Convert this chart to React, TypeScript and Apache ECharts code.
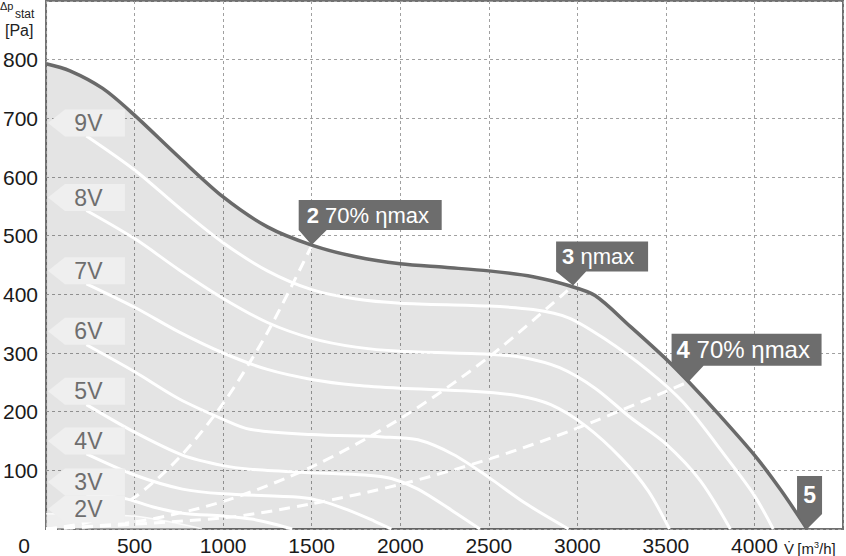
import React, { useEffect, useRef } from "react";
import * as echarts from "echarts";

// ---- data ----
const xTicks = [0, 500, 1000, 1500, 2000, 2500, 3000, 3500, 4000, 4500];
const yTicks = [0, 100, 200, 300, 400, 500, 600, 700, 800, 900];

const curve10V = [[0,793],[135,781],[320,751],[490,708],[750,634],[1000,566],[1250,515],[1500,484],[1750,464],[2000,452],[2250,446],[2500,440],[2750,430],[2950,415],[3100,398],[3300,345],[3500,290],[3628,251],[3800,195],[4000,126],[4150,66],[4297,0]];
const curve9V = [[228,670],[500,612],[750,548],[1000,488],[1250,440],[1500,408],[1750,392],[2000,385],[2500,380],[2750,374],[2950,360],[3150,325],[3400,270],[3600,215],[3847,120],[4000,57],[4106,0]];
const curve8V = [[228,543],[500,495],[750,442],[1000,393],[1250,352],[1500,325],[1750,310],[2000,303],[2500,298],[2700,292],[2900,275],[3100,240],[3300,190],[3500,145],[3695,82],[3864,0]];
const curve7V = [[228,418],[500,378],[750,336],[1000,300],[1250,272],[1500,255],[1750,245],[2000,240],[2400,235],[2650,228],[2850,212],[3050,175],[3250,120],[3400,65],[3520,0]];
const curve6V = [[228,314],[500,268],[750,222],[1000,187],[1150,170],[1500,161],[1900,157],[2100,152],[2300,127],[2500,88],[2700,45],[2950,0]];
const curve5V = [[228,212],[500,165],[770,126],[1000,108],[1150,102],[1500,96],[1800,92],[1950,86],[2100,68],[2300,30],[2450,0]];
const curve4V = [[228,128],[500,92],[770,68],[1000,60],[1430,54],[1550,48],[1700,33],[1850,14],[1950,0]];
const curve3V = [[228,58],[444,52],[600,38],[770,27],[1000,22],[1160,17],[1280,9],[1390,0]];
const curve2V = [[0,26],[250,25],[500,22],[650,15],[800,6],[880,0]];

const eff2 = [[0,0],[250,13],[500,54],[750,121],[1000,214],[1250,335],[1500,483]];
const eff3 = [[0,0],[500,12],[1000,47],[1500,106],[2000,188],[2500,293],[2976,415]];
const eff4 = [[0,0],[1000,19],[1500,43],[2000,76],[2500,119],[3000,172],[3628,251]];

const voltNames = ["9V", "8V", "7V", "6V", "5V", "4V", "3V", "2V"];
const voltLabelX = [228, 228, 228, 228, 228, 228, 228, 228];
const voltLabelY = [692, 565, 440, 337, 235, 150, 80, 34];

const pointNums = ["2", "3", "4", "5"];
const pointTexts = [" 70% ηmax", " ηmax", " 70% ηmax", ""];
const pointX = [1500, 2976, 3628, 4297];
const pointY = [484, 415, 251, 0];

const FONT = "'Liberation Sans', Arial, sans-serif";

export default function App() {
  const ref = useRef<HTMLDivElement>(null);
  useEffect(() => {
    document.body.style.margin = "0";
    if (!ref.current) return;
    const chart = echarts.init(ref.current, undefined, { renderer: "svg" });

    const whiteLine = (name: string, data: number[][]) => ({
      name, type: "line", data, smooth: 0.3, symbol: "none", silent: true,
      lineStyle: { color: "#ffffff", width: 3 }, z: 3,
    });
    const dashLine = (name: string, data: number[][]) => ({
      name, type: "line", data, smooth: 0.3, symbol: "none", silent: true,
      lineStyle: { color: "#ffffff", width: 3, type: [11, 7] }, z: 4,
    });

    const effShapes = [
      { path: "path://M0,0 H143 V30 H28 L13,45 L0,30 Z", size: [143, 45], offset: [58.5, -22.5], pos: [8, 15], align: "left", fs: 22 },
      { path: "path://M0,0 H92 V30 H30 L17,44 L0,30 Z", size: [92, 44], offset: [29, -22], pos: [6, 15], align: "left", fs: 22 },
      { path: "path://M0,0 H150 V32 H32 L17,48 L0,32 Z", size: [150, 48], offset: [58, -24], pos: [5, 16], align: "left", fs: 24 },
      { path: "path://M0,0 H25 V38 L10,53 L0,38 Z", size: [25, 53], offset: [2.5, -26.5], pos: [12.5, 19], align: "center", fs: 23 },
    ];

    const option: any = {
      animation: false,
      textStyle: { fontFamily: FONT },
      grid: { left: 43, right: 2, top: 1, bottom: 26, show: true, borderColor: "#707070", borderWidth: 2 },
      xAxis: {
        type: "value", min: xTicks[0], max: xTicks[xTicks.length - 1], interval: 500,
        axisLine: { show: false }, axisTick: { show: false },
        splitLine: { show: true, lineStyle: { color: "#a0a0a0", width: 1, type: [3, 3] } },
        axisLabel: {
          fontSize: 21, color: "#1a1a1a", margin: 6, fontFamily: FONT,
          formatter: (v: number) => (v === 0 || v === 4500 ? "" : String(v)),
        },
      },
      yAxis: {
        type: "value", min: yTicks[0], max: yTicks[yTicks.length - 1], interval: 100,
        axisLine: { show: false }, axisTick: { show: false },
        splitLine: { show: true, lineStyle: { color: "#a0a0a0", width: 1, type: [3, 3] } },
        axisLabel: {
          fontSize: 21, color: "#1a1a1a", margin: 8, fontFamily: FONT,
          formatter: (v: number) => (v === 0 || v === 900 ? "" : String(v)),
        },
      },
      series: [
        {
          name: "fill", type: "line", data: curve10V, smooth: 0.3, symbol: "none", silent: true,
          lineStyle: { width: 0 }, areaStyle: { color: "rgba(0,0,0,0.15)" }, z: 1,
        },
        {
          name: "2V", type: "line", data: curve2V, smooth: 0.3, symbol: "none", silent: true,
          lineStyle: { color: "rgba(255,255,255,0.8)", width: 1.5 }, areaStyle: { color: "rgba(255,255,255,0.55)" }, z: 2,
        },
        whiteLine("3V", curve3V),
        whiteLine("4V", curve4V),
        whiteLine("5V", curve5V),
        whiteLine("6V", curve6V),
        whiteLine("7V", curve7V),
        whiteLine("8V", curve8V),
        whiteLine("9V", curve9V),
        dashLine("eff2", eff2),
        dashLine("eff3", eff3),
        dashLine("eff4", eff4),
        {
          name: "10V", type: "line", data: curve10V, smooth: 0.3, symbol: "none", silent: true,
          lineStyle: { color: "#6a6a6a", width: 3.5 }, z: 5,
        },
        {
          name: "voltLabels", type: "scatter", silent: true, clip: false, z: 6,
          symbol: "path://M0,13.5 L17,0 L77,0 L77,27 L17,27 Z", symbolSize: [77, 27],
          itemStyle: { color: "#efefef", opacity: 1 },
          label: { show: true, position: "inside", offset: [2, 0], formatter: "{b}", fontSize: 23, color: "#6e6e6e", fontFamily: FONT },
          data: voltNames.map((n, i) => ({ name: n, value: [voltLabelX[i], voltLabelY[i]] })),
        },
        {
          name: "pointLabels", type: "scatter", silent: true, clip: false, z: 7,
          itemStyle: { color: "#6d6d6d", opacity: 1 },
          data: pointNums.map((n, i) => {
            const s = effShapes[i];
            return {
              name: n,
              value: [pointX[i], pointY[i]],
              symbol: s.path,
              symbolSize: s.size,
              symbolOffset: s.offset,
              label: {
                show: true, position: s.pos, align: s.align, verticalAlign: "middle",
                formatter: "{b|" + n + "}{t|" + pointTexts[i] + "}",
                rich: {
                  b: { fontSize: s.fs, fontWeight: "bold", color: "#ffffff", fontFamily: FONT },
                  t: { fontSize: s.fs, color: "#ffffff", fontFamily: FONT },
                },
              },
            };
          }),
        },
      ],
      graphic: [
        { type: "text", left: 0, top: 0, style: { text: "Δp", fontSize: 11, fill: "#222", fontFamily: FONT } },
        { type: "text", left: 15, top: 8, style: { text: "stat", fontSize: 12, fill: "#222", fontFamily: FONT } },
        { type: "text", left: 5, top: 22, style: { text: "[Pa]", fontSize: 16, fill: "#222", fontFamily: FONT } },
        { type: "text", x: 24, y: 545, style: { text: "0", fontSize: 21, fill: "#1a1a1a", align: "center", verticalAlign: "middle", fontFamily: FONT } },
        {
          type: "text", x: 784, y: 548,
          style: {
            text: "{v|V̇} {u|[m}{s|3}{u|/h]}", verticalAlign: "middle", fontFamily: FONT,
            rich: {
              v: { fontSize: 15, fill: "#1a1a1a", fontFamily: FONT },
              u: { fontSize: 15, fill: "#1a1a1a", fontFamily: FONT },
              s: { fontSize: 9, fill: "#1a1a1a", verticalAlign: "top", fontFamily: FONT },
            },
          },
        },
      ],
    };
    chart.setOption(option);
    return () => chart.dispose();
  }, []);
  return <div ref={ref} style={{ width: 846, height: 556 }} />;
}
